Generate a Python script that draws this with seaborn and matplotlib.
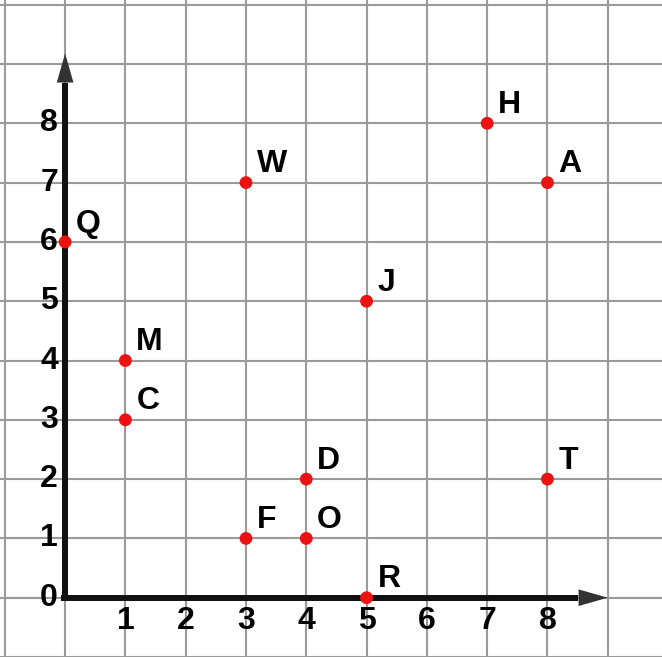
import matplotlib
matplotlib.use('Agg')
import matplotlib.pyplot as plt
import seaborn as sns
import pandas as pd

# points on the grid
names = ['Q', 'M', 'C', 'W', 'F', 'D', 'O', 'R', 'J', 'H', 'A', 'T']
xs = [0, 1, 1, 3, 3, 4, 4, 5, 5, 7, 8, 8]
ys = [6, 4, 3, 7, 1, 2, 1, 0, 5, 8, 7, 2]

x_ticks = [1, 2, 3, 4, 5, 6, 7, 8]
y_ticks = [0, 1, 2, 3, 4, 5, 6, 7, 8]

df = pd.DataFrame({'name': names, 'x': xs, 'y': ys})

sns.set_style('white')
plt.rcParams['font.family'] = ['Liberation Sans', 'DejaVu Sans']

fig = plt.figure(figsize=(6.62, 6.57), dpi=100)
ax = fig.add_axes([0, 0, 1, 1])

ax.set_xlim(-1.08, 9.90)
ax.set_ylim(-0.97, 10.08)
ax.set_xticks(range(-1, 10))
ax.set_yticks(range(-1, 11))
ax.grid(True, color='#9a9a9a', lw=1.5)
ax.tick_params(length=0, labelbottom=False, labelleft=False)
for s in ax.spines.values():
    s.set_visible(False)

# axis lines with arrow heads
ax.plot([-0.06, 8.5], [0, 0], color='#111111', lw=4.3, solid_capstyle='butt', zorder=3)
ax.plot([0, 0], [-0.06, 8.68], color='#111111', lw=4.3, solid_capstyle='butt', zorder=3)
head = dict(arrowstyle='-|>,head_length=1.05,head_width=0.3', mutation_scale=20,
            color='#333333', lw=0, shrinkA=0, shrinkB=0)
ax.annotate('', xy=(9.0, 0), xytext=(8.4, 0), arrowprops=head, zorder=4)
ax.annotate('', xy=(0, 9.18), xytext=(0, 8.6), arrowprops=head, zorder=4)

# tick labels
for v in x_ticks:
    ax.text(v, -0.39, str(v), ha='center', va='center', fontsize=23,
            fontweight='bold', color='black')
for v in y_ticks:
    ax.text(-0.12, v, str(v), ha='right', va='center', fontsize=23,
            fontweight='bold', color='black')

sns.scatterplot(data=df, x='x', y='y', color='#ee1111', s=85, edgecolor='none',
                ax=ax, zorder=5, legend=False)
for _, r in df.iterrows():
    ax.text(r['x'] + 0.18, r['y'] + 0.31, r['name'], ha='left', va='center',
            fontsize=23, fontweight='bold', color='black', zorder=6)

ax.set_xlabel('')
ax.set_ylabel('')
fig.savefig('out.png', dpi=100)
